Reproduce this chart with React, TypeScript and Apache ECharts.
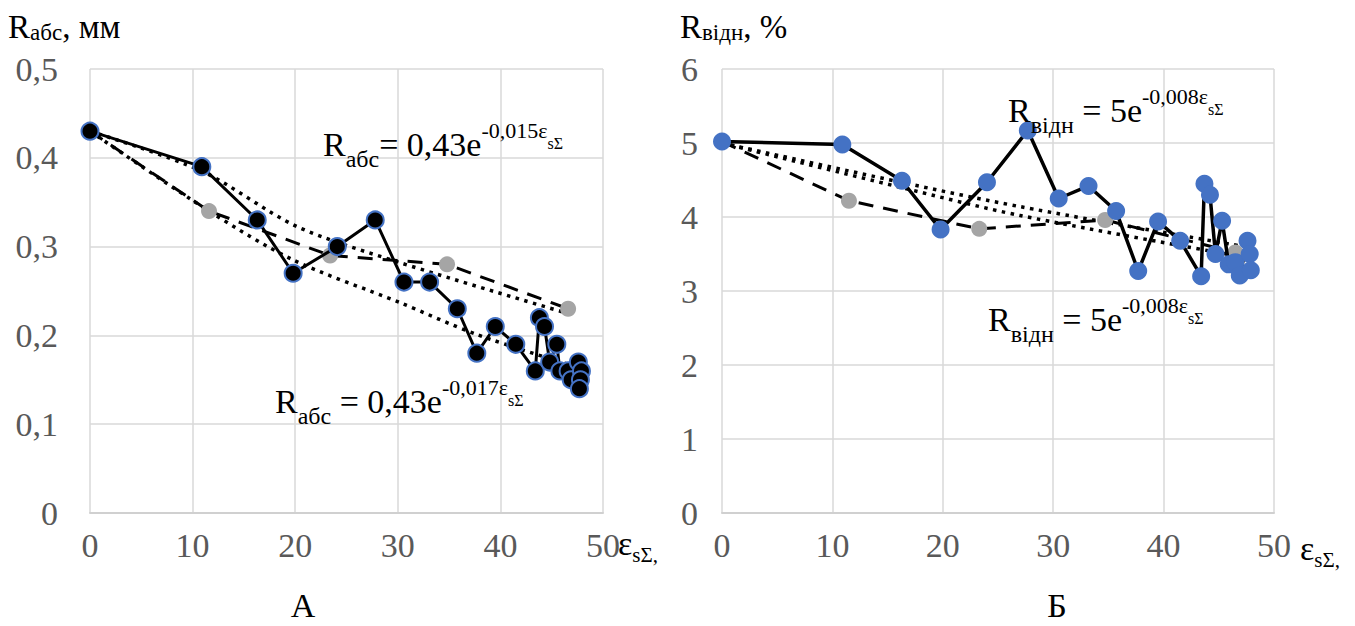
import React, { useEffect, useRef } from "react";
import * as echarts from "echarts";

const SERIF = "Liberation Serif, Times New Roman, DejaVu Serif, serif";

// ---- Chart A: absolute R (mm) vs strain
const strainA = [0, 10.9, 16.3, 19.8, 24.1, 27.8, 30.6, 33.1, 35.8, 37.7, 39.5, 41.5, 43.4, 43.8, 44.3, 44.8, 45.5, 45.8, 46.6, 46.9, 47.6, 47.9, 47.8, 47.7];
const absR = [0.43, 0.39, 0.33, 0.27, 0.30, 0.33, 0.26, 0.26, 0.23, 0.18, 0.21, 0.19, 0.16, 0.22, 0.21, 0.17, 0.19, 0.16, 0.16, 0.15, 0.17, 0.16, 0.15, 0.14];
const strainAGray = [0, 11.6, 23.4, 34.8, 46.6];
const absRGray = [0.43, 0.34, 0.29, 0.28, 0.23];
const trendA1x = [0, 10.9, 20.1, 30.2, 46.5];
const trendA1y = [0.43, 0.385, 0.323, 0.282, 0.225];
const trendA2x = [0, 11.6, 19.8, 30.2, 37.7, 47.8];
const trendA2y = [0.43, 0.34, 0.285, 0.237, 0.201, 0.163];

// ---- Chart B: relative R (%) vs strain
const strainB = [0, 10.9, 16.3, 19.8, 24.0, 27.7, 30.5, 33.2, 35.7, 37.7, 39.5, 41.5, 43.4, 43.7, 44.2, 44.7, 45.3, 45.9, 46.5, 46.9, 47.6, 47.8, 47.9];
const relR = [5.02, 4.98, 4.49, 3.83, 4.47, 5.17, 4.25, 4.42, 4.08, 3.27, 3.94, 3.68, 3.2, 4.45, 4.3, 3.5, 3.95, 3.36, 3.39, 3.21, 3.68, 3.5, 3.28];
const strainBGray = [0, 11.5, 23.3, 34.7, 46.5];
const relRGray = [5.02, 4.22, 3.84, 3.96, 3.52];
const trendB1x = [0, 16.2, 27, 47.7];
const trendB1y = [5.0, 4.47, 4.14, 3.59];
const trendB2x = [0, 16.2, 27, 47.6];
const trendB2y = [5.0, 4.4, 4.02, 3.45];

const zip = (xs: number[], ys: number[]) => xs.map((x, i) => [x, ys[i]]);

const TICK_COLOR = "#595959";
const GRID_COLOR = "#d9d9d9";

const eqRich = (color: string) => ({
  m: { fontSize: 34, fontFamily: SERIF, color, lineHeight: 34 },
  s: { fontSize: 24, fontFamily: SERIF, color, lineHeight: 24, padding: [30, 0, 0, 0] },
  p: { fontSize: 22, fontFamily: SERIF, color, lineHeight: 22, padding: [0, 0, 27, 0] },
  q: { fontSize: 16, fontFamily: SERIF, color, lineHeight: 16, padding: [0, 0, 2, 0] },
});

const titleRich = {
  m: { fontSize: 33, fontFamily: SERIF, color: "#000", lineHeight: 33 },
  s: { fontSize: 23, fontFamily: SERIF, color: "#000", lineHeight: 23, padding: [11, 0, 0, 0] },
};

const axisNameRich = {
  e: { fontSize: 34, fontFamily: SERIF, color: "#000", lineHeight: 34 },
  s: { fontSize: 21, fontFamily: SERIF, color: "#000", lineHeight: 21, padding: [24, 0, 0, 0] },
};

function xAxisCfg(gridIndex: number) {
  return {
    type: "value",
    gridIndex,
    min: 0,
    max: 50,
    interval: 10,
    axisLine: { show: true, lineStyle: { color: "#d0d0d0", width: 2 } },
    axisTick: { show: false },
    splitLine: { show: true, lineStyle: { color: GRID_COLOR, width: 1.5 } },
    axisLabel: { color: TICK_COLOR, fontSize: 34, fontFamily: SERIF, margin: 15 },
  };
}

function yAxisCfg(gridIndex: number, max: number, interval: number, margin: number) {
  return {
    type: "value",
    gridIndex,
    min: 0,
    max,
    interval,
    axisLine: { show: false },
    axisTick: { show: false },
    splitLine: { show: true, lineStyle: { color: GRID_COLOR, width: 1.5 } },
    axisLabel: {
      color: TICK_COLOR,
      fontSize: 34,
      fontFamily: SERIF,
      margin,
      formatter: (v: number) => String(Number(v.toFixed(2))).replace(".", ","),
    },
  };
}

function trend(xi: number, yi: number, data: number[][]) {
  return {
    type: "line",
    xAxisIndex: xi,
    yAxisIndex: yi,
    data,
    smooth: 0.3,
    showSymbol: false,
    symbol: "none",
    lineStyle: { color: "#000", width: 3.5, type: [3.5, 5.5] },
    z: 2,
  };
}

function grayLine(xi: number, yi: number, data: number[][]) {
  return {
    type: "line",
    xAxisIndex: xi,
    yAxisIndex: yi,
    data,
    symbol: "circle",
    symbolSize: 16,
    itemStyle: { color: "#a5a5a5" },
    lineStyle: { color: "#000", width: 3, type: [15, 10] },
    z: 3,
  };
}

export default function App() {
  const ref = useRef<HTMLDivElement>(null);
  useEffect(() => {
    if (!ref.current) return;
    const chart = echarts.init(ref.current, undefined, { renderer: "svg" });
    chart.setOption({
      animation: false,
      backgroundColor: "#fff",
      textStyle: { fontFamily: SERIF },
      grid: [
        { left: 90, right: 752, top: 69, bottom: 113 },
        { left: 722, right: 81, top: 69, bottom: 113 },
      ],
      xAxis: [xAxisCfg(0), xAxisCfg(1)],
      yAxis: [yAxisCfg(0, 0.5, 0.1, 32), yAxisCfg(1, 6, 1, 24)],
      series: [
        trend(0, 0, zip(trendA1x, trendA1y)),
        trend(0, 0, zip(trendA2x, trendA2y)),
        grayLine(0, 0, zip(strainAGray, absRGray)),
        {
          type: "line",
          xAxisIndex: 0,
          yAxisIndex: 0,
          data: zip(strainA, absR),
          symbol: "circle",
          symbolSize: 17,
          itemStyle: { color: "#000", borderColor: "#4472c4", borderWidth: 2 },
          lineStyle: { color: "#000", width: 3 },
          z: 4,
        },
        trend(1, 1, zip(trendB1x, trendB1y)),
        trend(1, 1, zip(trendB2x, trendB2y)),
        grayLine(1, 1, zip(strainBGray, relRGray)),
        {
          type: "line",
          xAxisIndex: 1,
          yAxisIndex: 1,
          data: zip(strainB, relR),
          symbol: "circle",
          symbolSize: 18,
          itemStyle: { color: "#4472c4" },
          lineStyle: { color: "#000", width: 3.5 },
          z: 4,
        },
      ],
      graphic: [
        { type: "text", x: 8, y: 10, z: 10, style: { text: "{m|R}{s|абс}{m|, мм}", rich: titleRich } },
        { type: "text", x: 680, y: 10, z: 10, style: { text: "{m|R}{s|відн}{m|, %}", rich: titleRich } },
        { type: "text", x: 618, y: 526, z: 10, style: { text: "{e|ε}{s|sΣ,}", rich: axisNameRich } },
        { type: "text", x: 1300, y: 531, z: 10, style: { text: "{e|ε}{s|sΣ,}", rich: axisNameRich } },
        { type: "text", x: 303, y: 605, z: 10, style: { text: "А", fontSize: 34, fontFamily: SERIF, fill: "#000", align: "center", verticalAlign: "middle" } },
        { type: "text", x: 1057, y: 605, z: 10, style: { text: "Б", fontSize: 34, fontFamily: SERIF, fill: "#000", align: "center", verticalAlign: "middle" } },
        { type: "text", x: 323, y: 127, z: 10, style: { text: "{m|R}{s|абс}{m|= 0,43e}{p|-0,015ε}{q|sΣ}", rich: eqRich(TICK_COLOR) } },
        { type: "text", x: 275, y: 384, z: 10, style: { text: "{m|R}{s|абс}{m| = 0,43e}{p|-0,017ε}{q|sΣ}", rich: eqRich(TICK_COLOR) } },
        { type: "text", x: 1008, y: 93, z: 10, style: { text: "{m|R}{s|відн}{m| = 5e}{p|-0,008ε}{q|sΣ}", rich: eqRich(TICK_COLOR) } },
        { type: "text", x: 988, y: 302, z: 10, style: { text: "{m|R}{s|відн}{m| = 5e}{p|-0,008ε}{q|sΣ}", rich: eqRich(TICK_COLOR) } },
      ],
    });
    return () => chart.dispose();
  }, []);
  return <div ref={ref} style={{ position: "fixed", left: 0, top: 0, width: 1355, height: 626 }} />;
}
